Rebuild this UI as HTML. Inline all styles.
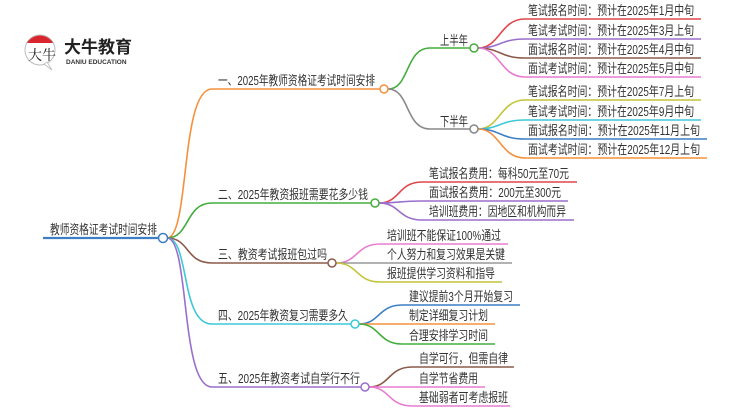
<!DOCTYPE html>
<html><head><meta charset="utf-8"><style>
html,body{margin:0;padding:0;background:#fff;}
svg{display:block;}
text{font-family:"Liberation Sans","Noto Sans CJK SC",sans-serif;font-size:13px;fill:#333;}
</style></head><body>
<svg width="750" height="410" viewBox="0 0 750 410" xmlns="http://www.w3.org/2000/svg">
<!-- logo -->
<circle cx="40" cy="50" r="15" fill="#fff" stroke="#bbb" stroke-width="1"/>
<path d="M27,43 A15,15 0 0 1 53,43 Z" fill="#d9262c"/>
<path d="M44,64 L52,70 L47,62 Z" fill="#fff" stroke="#bbb" stroke-width="0.8"/>
<text x="28" y="60" style="font-size:14px;fill:#222;font-family:'Noto Serif CJK SC',serif">大牛</text>
<text x="64" y="53" style="font-size:17px;font-weight:bold;fill:#222">大牛教育</text>
<text x="66" y="64" style="font-size:6.5px;font-weight:bold;fill:#333">DANIU EDUCATION</text>

<g fill="none" stroke-width="1.6">
<line x1="43" y1="238" x2="159" y2="238" stroke="#3d7fc4" stroke-width="2.2"/>
<path d="M167,238 C190,238 180,89 212,89 L380,89" stroke="#f5903d"/>
<path d="M167,238 C190,238 185,203 212,203 L371,203" stroke="#45ad3e"/>
<path d="M167,238 C190,238 185,263 212,263 L328,263" stroke="#8c5a4a"/>
<path d="M167,238 C190,238 180,324 212,324 L351,324" stroke="#3ec8d8"/>
<path d="M167,238 C190,238 180,387 212,387 L361,387" stroke="#9a6fcc"/>
<path d="M388,89 C410,89 405,48 430,48 L470,48" stroke="#45ad3e"/>
<path d="M388,89 C410,89 405,129 430,129 L470,129" stroke="#888"/>
<path d="M478,48 C500,48 500,19 525,19 L701,19" stroke="#e0474c"/>
<path d="M478,48 C500,48 500,39 525,39 L701,39" stroke="#9a6fcc"/>
<path d="M478,48 C500,48 500,58 525,58 L701,58" stroke="#8c5a4a"/>
<path d="M478,48 C500,48 500,77 525,77 L701,77" stroke="#e87bd0"/>
<path d="M478,129 C500,129 500,100 525,100 L701,100" stroke="#c4c43a"/>
<path d="M478,129 C500,129 500,120 525,120 L701,120" stroke="#3ec8d8"/>
<path d="M478,129 C500,129 500,139 525,139 L707,139" stroke="#3d7fc4"/>
<path d="M478,129 C500,129 500,158 525,158 L707,158" stroke="#f5903d"/>
<path d="M379,203 C400,203 398,182 422,182 L577,182" stroke="#e0474c"/>
<path d="M379,203 C400,203 398,201 422,201 L568,201" stroke="#9a6fcc"/>
<path d="M379,203 C400,203 398,220 422,220 L574,220" stroke="#9a6fcc"/>
<path d="M336,263 C358,263 356,244 380,244 L508,244" stroke="#e87bd0"/>
<path d="M336,263 L512,263" stroke="#999"/>
<path d="M336,263 C358,263 356,282 380,282 L502,282" stroke="#c4c43a"/>
<path d="M359,324 C380,324 378,305 402,305 L520,305" stroke="#3d7fc4"/>
<path d="M359,324 L495,324" stroke="#f5903d"/>
<path d="M359,324 C380,324 378,344 402,344 L495,344" stroke="#45ad3e"/>
<path d="M369,387 C390,387 388,367 412,367 L514,367" stroke="#8c5a4a"/>
<path d="M369,387 L485,387" stroke="#e87bd0"/>
<path d="M369,387 C390,387 388,406 412,406 L510,406" stroke="#e87bd0"/>
</g>
<g fill="#fff" stroke-width="1.5">
<circle cx="163" cy="238" r="4.5" stroke="#3d7fc4"/>
<circle cx="384" cy="89" r="4" stroke="#f5903d"/>
<circle cx="474" cy="48" r="4" stroke="#45ad3e"/>
<circle cx="474" cy="129" r="4" stroke="#888"/>
<circle cx="375" cy="203" r="4" stroke="#45ad3e"/>
<circle cx="332" cy="263" r="4" stroke="#8c5a4a"/>
<circle cx="355" cy="324" r="4" stroke="#3ec8d8"/>
<circle cx="365" cy="387" r="4" stroke="#9a6fcc"/>
</g>
<g>
<text x="50" y="234" textLength="107" lengthAdjust="spacingAndGlyphs">教师资格证考试时间安排</text>
<text x="218" y="85" textLength="157" lengthAdjust="spacingAndGlyphs">一、2025年教师资格证考试时间安排</text>
<text x="218" y="199" textLength="150" lengthAdjust="spacingAndGlyphs">二、2025年教资报班需要花多少钱</text>
<text x="218" y="259" textLength="109" lengthAdjust="spacingAndGlyphs">三、教资考试报班包过吗</text>
<text x="218" y="320" textLength="130" lengthAdjust="spacingAndGlyphs">四、2025年教资复习需要多久</text>
<text x="218" y="383" textLength="142" lengthAdjust="spacingAndGlyphs">五、2025年教资考试自学行不行</text>
<text x="440" y="45" textLength="28" lengthAdjust="spacingAndGlyphs">上半年</text>
<text x="440" y="126" textLength="28" lengthAdjust="spacingAndGlyphs">下半年</text>
<text x="528" y="15" textLength="166" lengthAdjust="spacingAndGlyphs">笔试报名时间：预计在2025年1月中旬</text>
<text x="528" y="35" textLength="166" lengthAdjust="spacingAndGlyphs">笔试考试时间：预计在2025年3月上旬</text>
<text x="528" y="54" textLength="166" lengthAdjust="spacingAndGlyphs">面试报名时间：预计在2025年4月中旬</text>
<text x="528" y="73" textLength="166" lengthAdjust="spacingAndGlyphs">面试考试时间：预计在2025年5月中旬</text>
<text x="528" y="96" textLength="166" lengthAdjust="spacingAndGlyphs">笔试报名时间：预计在2025年7月上旬</text>
<text x="528" y="116" textLength="166" lengthAdjust="spacingAndGlyphs">笔试考试时间：预计在2025年9月中旬</text>
<text x="528" y="135" textLength="172" lengthAdjust="spacingAndGlyphs">面试报名时间：预计在2025年11月上旬</text>
<text x="528" y="154" textLength="172" lengthAdjust="spacingAndGlyphs">面试考试时间：预计在2025年12月上旬</text>
<text x="429" y="178" textLength="140" lengthAdjust="spacingAndGlyphs">笔试报名费用：每科50元至70元</text>
<text x="429" y="197" textLength="132" lengthAdjust="spacingAndGlyphs">面试报名费用：200元至300元</text>
<text x="429" y="216" textLength="137" lengthAdjust="spacingAndGlyphs">培训班费用：因地区和机构而异</text>
<text x="387" y="240" textLength="114" lengthAdjust="spacingAndGlyphs">培训班不能保证100%通过</text>
<text x="387" y="259" textLength="118" lengthAdjust="spacingAndGlyphs">个人努力和复习效果是关键</text>
<text x="387" y="278" textLength="108" lengthAdjust="spacingAndGlyphs">报班提供学习资料和指导</text>
<text x="409" y="301" textLength="104" lengthAdjust="spacingAndGlyphs">建议提前3个月开始复习</text>
<text x="409" y="320" textLength="79" lengthAdjust="spacingAndGlyphs">制定详细复习计划</text>
<text x="409" y="340" textLength="79" lengthAdjust="spacingAndGlyphs">合理安排学习时间</text>
<text x="419" y="363" textLength="89" lengthAdjust="spacingAndGlyphs">自学可行，但需自律</text>
<text x="419" y="383" textLength="59" lengthAdjust="spacingAndGlyphs">自学节省费用</text>
<text x="419" y="402" textLength="89" lengthAdjust="spacingAndGlyphs">基础弱者可考虑报班</text>
</g>
</svg>
</body></html>
